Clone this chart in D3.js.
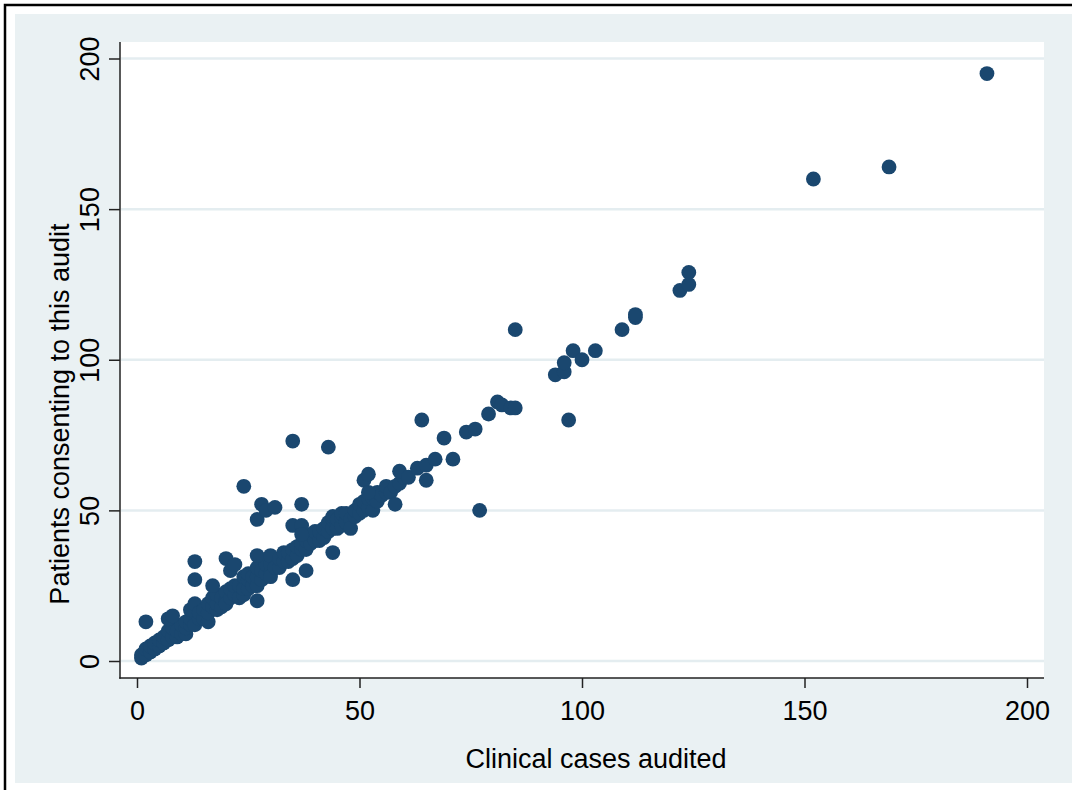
<!DOCTYPE html>
<html>
<head>
<meta charset="utf-8">
<script src="https://cdn.jsdelivr.net/npm/d3@7"></script>
<style>
  html, body { margin: 0; padding: 0; background: #ffffff; }
  svg { display: block; }
  text { font-family: "Liberation Sans", Arial, Helvetica, sans-serif; fill: #000; }
</style>
</head>
<body>
<svg id="chart" width="1072" height="790"></svg>
<script>
// Clinical cases audited (x) and patients consenting (y), one entry per unit
const casesAudited = [
  1, 1, 2, 2, 3, 3, 4, 4, 5, 5, 6, 6, 7, 7, 8, 8, 9, 9, 10, 10,
  2, 7, 8,
  11, 11, 11, 12, 12, 12, 13, 13, 14, 14, 15, 15, 16, 16, 16, 17, 17, 18, 18, 18, 19, 19, 20, 20, 20,
  13, 13, 17, 20, 21, 22,
  21, 21, 22, 22, 23, 23, 24, 24, 24, 25, 25, 25, 26, 26, 27, 27, 27, 28, 28, 29, 29, 30, 30,
  27, 27, 30, 30, 24, 27, 28, 29, 31,
  31, 32, 32, 33, 33, 34, 34, 35, 35, 36, 36, 37, 37, 38, 38, 39, 39, 40, 40,
  35, 38, 35, 37, 37, 35, 37,
  41, 41, 42, 42, 43, 43, 44, 44, 44, 45, 45, 46, 46, 46, 47, 47, 48, 48, 49, 49, 50, 50,
  43, 44,
  51, 51, 52, 52, 53, 53, 54, 54, 55, 56, 56, 57, 58, 59, 60,
  51, 52, 52, 58, 59,
  61, 63, 64, 65, 65, 67, 69, 71, 74, 76, 77, 79, 81, 82, 84, 85, 85,
  94, 96, 96, 97, 98, 100, 103, 109, 112, 112, 122, 124, 124, 152, 169, 191
];
const patientsConsenting = [
  1, 2, 2, 4, 3, 5, 4, 6, 5, 7, 6, 8, 7, 10, 8, 11, 8, 10, 9, 12,
  13, 14, 15,
  9, 11, 13, 12, 14, 17, 12, 19, 14, 16, 14, 17, 13, 16, 19, 18, 21, 17, 19, 22, 18, 21, 20, 23, 19,
  27, 33, 25, 34, 30, 32,
  21, 24, 22, 25, 21, 25, 22, 24, 28, 24, 27, 29, 25, 28, 25, 28, 31, 27, 30, 29, 32, 29, 32,
  20, 35, 35, 28, 58, 47, 52, 50, 51,
  31, 31, 34, 33, 36, 33, 36, 34, 37, 35, 38, 37, 39, 37, 40, 39, 42, 40, 43,
  27, 30, 45, 45, 52, 73, 42,
  40, 43, 41, 44, 43, 46, 44, 47, 48, 44, 47, 45, 48, 49, 46, 49, 47, 44, 48, 50, 49, 52,
  71, 36,
  50, 53, 51, 54, 50, 54, 53, 56, 55, 56, 58, 56, 58, 59, 61,
  60, 62, 56, 52, 63,
  61, 64, 80, 65, 60, 67, 74, 67, 76, 77, 50, 82, 86, 85, 84, 84, 110,
  95, 96, 99, 80, 103, 100, 103, 110, 114, 115, 123, 125, 129, 160, 164, 195
];

const xTicks = [0, 50, 100, 150, 200];
const yTicks = [0, 50, 100, 150, 200];
const xTitle = "Clinical cases audited";
const yTitle = "Patients consenting to this audit";

const points = casesAudited.map((c, i) => ({ x: c, y: patientsConsenting[i] }));

const svg = d3.select("#chart");
const W = 1072, H = 790;

const bg = "#eaf1f3";
const gridColor = "#e4edf0";
const markerColor = "#1a476f";
const fontSize = 27;

// outer frame and graph region
svg.append("rect").attr("x", 0).attr("y", 0).attr("width", W).attr("height", H).attr("fill", "#ffffff");
svg.append("rect").attr("x", 15).attr("y", 14).attr("width", W - 15).attr("height", 769).attr("fill", bg);
svg.append("rect").attr("x", 5).attr("y", 5).attr("width", W + 20).attr("height", H + 20)
  .attr("fill", "none").attr("stroke", "#000").attr("stroke-width", 2.5);

// plot region
const plot = { left: 120, top: 42, right: 1044, bottom: 678 };
svg.append("rect")
  .attr("x", plot.left).attr("y", plot.top)
  .attr("width", plot.right - plot.left).attr("height", plot.bottom - plot.top)
  .attr("fill", "#ffffff");

const x = d3.scaleLinear().domain([0, 200]).range([137, 1027]);
const y = d3.scaleLinear().domain([0, 200]).range([661, 58.5]);

// horizontal grid lines
svg.append("g").selectAll("line").data(yTicks).join("line")
  .attr("x1", plot.left + 1).attr("x2", plot.right)
  .attr("y1", d => y(d)).attr("y2", d => y(d))
  .attr("stroke", gridColor).attr("stroke-width", 2.5);

// axes
const xAxis = d3.axisBottom(x).tickValues(xTicks).tickSize(10).tickPadding(13).tickFormat(d3.format("d"));
const gx = svg.append("g").attr("transform", `translate(0,${plot.bottom})`).call(xAxis);
gx.select(".domain").remove();
gx.selectAll(".tick line").attr("stroke", "#222").attr("stroke-width", 1.5);
gx.selectAll(".tick text").attr("font-size", fontSize).attr("fill", "#000")
  .attr("font-family", "Liberation Sans, Arial, sans-serif");

const yAxis = d3.axisLeft(y).tickValues(yTicks).tickSize(11).tickPadding(0).tickFormat(d3.format("d"));
const gy = svg.append("g").attr("transform", `translate(${plot.left},0)`).call(yAxis);
gy.select(".domain").remove();
gy.selectAll(".tick line").attr("stroke", "#222").attr("stroke-width", 1.5);
gy.selectAll(".tick text")
  .attr("font-size", fontSize).attr("fill", "#000")
  .attr("font-family", "Liberation Sans, Arial, sans-serif")
  .attr("x", null).attr("dy", null)
  .attr("text-anchor", "middle")
  .attr("transform", "translate(-21,0) rotate(-90)");

// axis lines
svg.append("line").attr("x1", plot.left).attr("x2", plot.left)
  .attr("y1", plot.top).attr("y2", plot.bottom + 0.75)
  .attr("stroke", "#222").attr("stroke-width", 1.5);
svg.append("line").attr("x1", plot.left - 0.75).attr("x2", plot.right)
  .attr("y1", plot.bottom).attr("y2", plot.bottom)
  .attr("stroke", "#222").attr("stroke-width", 1.5);

// markers
svg.append("g").selectAll("circle").data(points).join("circle")
  .attr("cx", d => x(d.x)).attr("cy", d => y(d.y))
  .attr("r", 7.4)
  .attr("fill", markerColor);

// axis titles
svg.append("text")
  .attr("x", 596).attr("y", 768)
  .attr("text-anchor", "middle")
  .attr("font-size", fontSize)
  .text(xTitle);

svg.append("text")
  .attr("transform", "translate(69,414) rotate(-90)")
  .attr("text-anchor", "middle")
  .attr("font-size", fontSize)
  .text(yTitle);
</script>
</body>
</html>
